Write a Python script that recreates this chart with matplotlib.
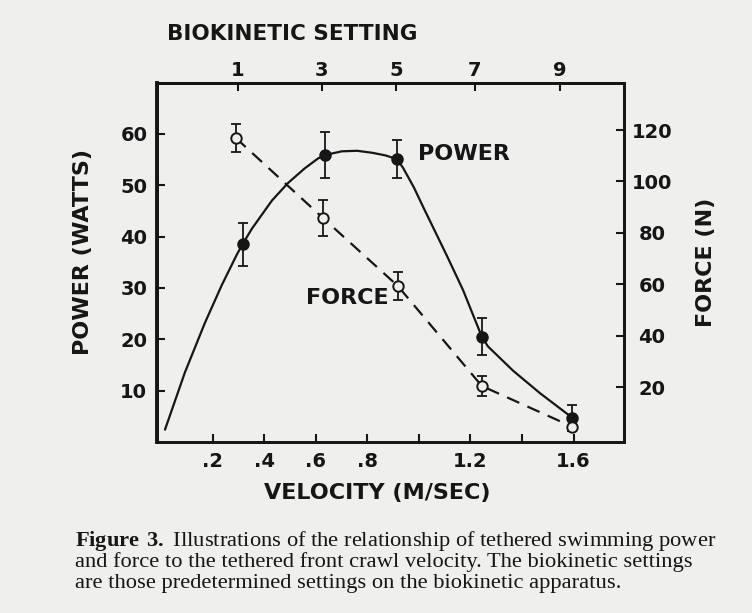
import numpy as np
import matplotlib.pyplot as plt

plt.rcParams['font.family'] = 'DejaVu Sans'
plt.rcParams['mathtext.fontset'] = 'custom'
plt.rcParams['mathtext.rm'] = 'Liberation Serif'
plt.rcParams['mathtext.bf'] = 'Liberation Serif:bold'

# valori
velocity_power = [0.315, 0.637, 0.914, 1.244, 1.596]
power = [38.5, 55.9, 55.1, 20.5, 4.7]
power_err = [4.2, 4.4, 3.7, 3.6, 2.5]

velocity_force = [0.289, 0.627, 0.918, 1.244, 1.596]
force = [116.9, 85.8, 59.3, 20.4, 4.5]
force_err = [5.3, 7.0, 5.6, 4.0, 0.0]

# curva disegnata a mano per la potenza (punti ricalcati dalla figura)
curve_v = [0.014, 0.091, 0.169, 0.235, 0.293, 0.315, 0.351, 0.429, 0.491, 0.557,
           0.608, 0.637, 0.701, 0.760, 0.820, 0.870, 0.914, 0.938, 0.980, 1.015,
           1.109, 1.171, 1.244, 1.268, 1.365, 1.470, 1.567, 1.596]
curve_p = [2.4, 13.5, 23.2, 30.6, 36.5, 38.5, 41.5, 47.0, 50.4, 53.3,
           55.2, 55.9, 56.6, 56.7, 56.3, 55.8, 55.1, 53.4, 49.6, 45.9,
           36.2, 29.6, 20.5, 18.6, 13.9, 9.5, 5.8, 4.7]

setting_labels = ['1', '3', '5', '7', '9']
setting_velocity = [0.297, 0.623, 0.911, 1.217, 1.548]

vel_ticks = [0.2, 0.4, 0.6, 0.8, 1.0, 1.2, 1.4, 1.6]
vel_labels = ['.2', '.4', '.6', '.8', '', '1.2', '', '1.6']
power_ticks = [10, 20, 30, 40, 50, 60]
force_ticks = [20, 40, 60, 80, 100, 120]

bg = '#efefed'
ink = '#161616'

fig = plt.figure(figsize=(7.52, 6.13), dpi=100, facecolor=bg)
ax = fig.add_axes([157/752, (613-442)/613, (624-157)/752, (442-83)/613])
ax.set_facecolor(bg)
ax2 = ax.twinx()

ax.set_xlim(-0.017, 1.796)
ax.set_ylim(0, 69.9)
ax2.set_ylim(-1.4, 138.3)

# potenza
ax.plot(curve_v, curve_p, color=ink, lw=1.6, solid_joinstyle='round',
        solid_capstyle='round', zorder=2)
ax.errorbar(velocity_power, power, yerr=power_err, fmt='o', color=ink,
            ms=8, capsize=3.5, elinewidth=1.3, capthick=1.3, zorder=3)

# forza
ax2.plot(velocity_force, force, color=ink, lw=1.6, linestyle=(0, (6, 4)), zorder=2)
ax2.errorbar(velocity_force, force, yerr=force_err, fmt='none', ecolor=ink,
             capsize=3.5, elinewidth=1.3, capthick=1.3, zorder=3)
ax2.plot(velocity_force, force, 'o', ms=7.5, mfc=bg, mec=ink, mew=1.4, zorder=4)

ax.text(0.996, 56.1, 'POWER', fontsize=16, weight='bold', color=ink, va='center')
ax.text(0.561, 28.1, 'FORCE', fontsize=16, weight='bold', color=ink, va='center')

# assi
for a in (ax, ax2):
    for s in a.spines.values():
        s.set_linewidth(2)
        s.set_color(ink)
ax.spines['left'].set_linewidth(2.8)

ax.set_xticks(vel_ticks, vel_labels)
ax.set_yticks(power_ticks)
ax.tick_params(axis='x', direction='in', length=6, width=1.5, pad=7,
               labelsize=14, colors=ink)
ax.tick_params(axis='y', direction='in', length=6, width=1.5, pad=7,
               labelsize=14, colors=ink)
ax2.set_yticks(force_ticks)
ax2.tick_params(axis='y', direction='in', length=6, width=1.5, pad=20,
                labelsize=14, colors=ink)
for lbl in ax.get_xticklabels() + ax.get_yticklabels() + ax2.get_yticklabels():
    lbl.set_fontweight('bold')
for lbl in ax2.get_yticklabels():
    lbl.set_ha('center')

top = ax.secondary_xaxis('top')
top.set_xticks(setting_velocity, setting_labels)
top.tick_params(direction='in', length=6, width=1.5, pad=2, labelsize=14, colors=ink)
top.spines['top'].set_linewidth(2)
for lbl in top.get_xticklabels():
    lbl.set_fontweight('bold')

ax.set_xlabel('VELOCITY (M/SEC)', fontsize=16, weight='bold', color=ink)
ax.xaxis.set_label_coords(0.471, -0.142)
ax.xaxis.label.set_va('center')
ax.set_ylabel('POWER (WATTS)', fontsize=16, weight='bold', color=ink)
ax.yaxis.set_label_coords(-0.158, 0.529)
ax.yaxis.label.set_va('center')
ax2.set_ylabel('FORCE (N)', fontsize=16, weight='bold', color=ink, rotation=90)
ax2.yaxis.set_label_coords(1.1756, 0.501)
ax2.yaxis.label.set_va('center')
ax2.yaxis.label.set_ha('center')
ax.text(0.289, 1.136, 'BIOKINETIC SETTING', transform=ax.transAxes, fontsize=15.5,
        weight='bold', color=ink, ha='center', va='center')

# didascalia
caption = [r'$\mathbf{Figure\ 3.}$ Illustrations of the relationship of tethered swimming power',
           'and force to the tethered front crawl velocity. The biokinetic settings',
           'are those predetermined settings on the biokinetic apparatus.']
for i, line in enumerate(caption):
    fig.text(75/752, 1 - (546 + 21*i)/613, line, fontsize=16.2, family='Liberation Serif',
             color=ink, va='baseline', ha='left')

fig.savefig('out.png', dpi=100, facecolor=bg)
